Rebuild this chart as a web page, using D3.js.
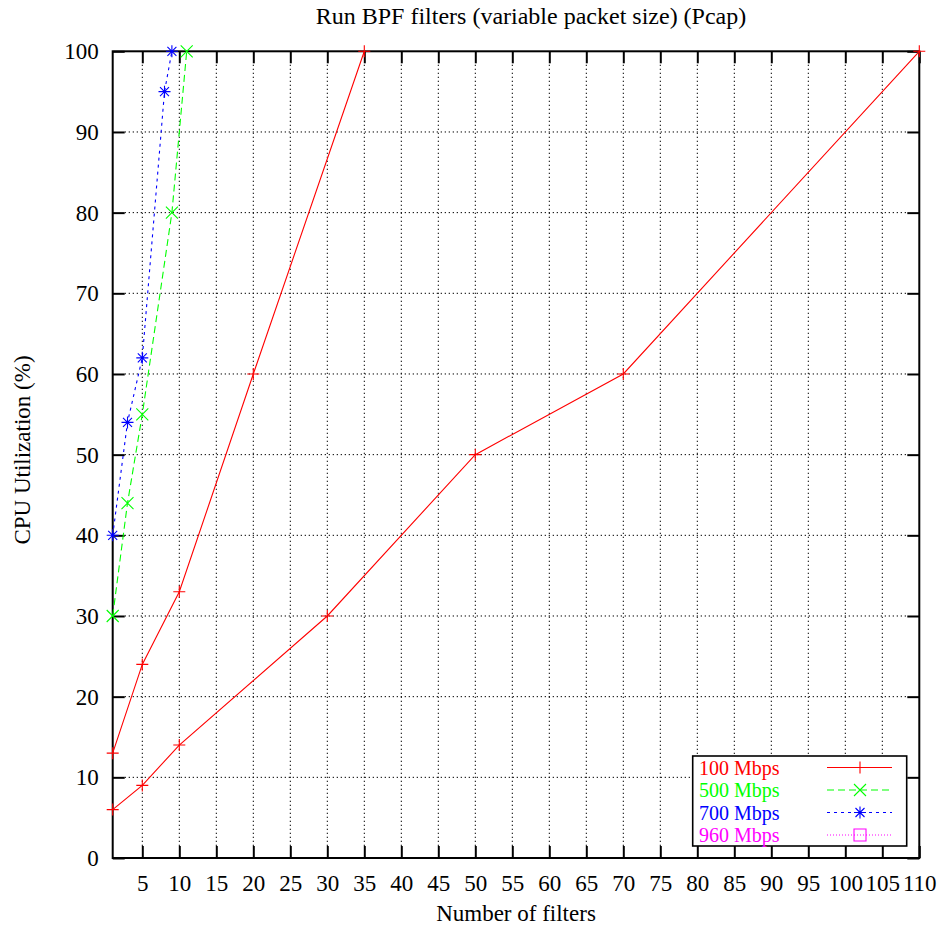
<!DOCTYPE html>
<html>
<head>
<meta charset="utf-8">
<script src="https://cdn.jsdelivr.net/npm/d3@7"></script>
<style>
  html, body { margin: 0; padding: 0; background: #fff; }
  svg { display: block; }
  text { font-family: "Liberation Serif", "DejaVu Serif", serif; }
</style>
</head>
<body>
<svg id="chart" width="942" height="927"></svg>
<script>
// ---- data ----
const titleText = "Run BPF filters (variable packet size) (Pcap)";
const xTitle = "Number of filters";
const yTitle = "CPU Utilization (%)";
const xTicks = [5,10,15,20,25,30,35,40,45,50,55,60,65,70,75,80,85,90,95,100,105,110];
const yTicks = [0,10,20,30,40,50,60,70,80,90,100];

// 100 Mbps (two runs in one data set, separated by a blank line)
const filters100a = [1, 5, 10, 20, 35];
const cpu100a     = [13, 24, 33, 60, 100];
const filters100b = [1, 5, 10, 30, 50, 70, 110];
const cpu100b     = [6, 9, 14, 30, 50, 60, 100];
// 500 Mbps
const filters500 = [1, 3, 5, 9, 11];
const cpu500     = [30, 44, 55, 80, 100];
// 700 Mbps
const filters700 = [1, 3, 5, 8, 9];
const cpu700     = [40, 54, 62, 95, 100];
// 960 Mbps (no points in range)
const filters960 = [];
const cpu960     = [];

const seriesNames  = ["100 Mbps", "500 Mbps", "700 Mbps", "960 Mbps"];
const seriesColors = ["#ff0000", "#00ff00", "#0000ff", "#ff00ff"];

// ---- layout ----
const L = 112.7, R = 919.3, T = 51.3, B = 858;
const svg = d3.select("#chart");
const x = d3.scaleLinear().domain([1, 110]).range([L, R]);
const y = d3.scaleLinear().domain([0, 100]).range([B, T]);

const zip = (xs, ys) => xs.map((v, i) => [v, ys[i]]);
const series = [
  { name: seriesNames[0], color: seriesColors[0], dash: null, marker: "plus",
    segments: [zip(filters100a, cpu100a), zip(filters100b, cpu100b)] },
  { name: seriesNames[1], color: seriesColors[1], dash: "7,4", marker: "cross",
    segments: [zip(filters500, cpu500)] },
  { name: seriesNames[2], color: seriesColors[2], dash: "3,4", marker: "star",
    segments: [zip(filters700, cpu700)] },
  { name: seriesNames[3], color: seriesColors[3], dash: "1,2", marker: "box",
    segments: [zip(filters960, cpu960)] }
];

const markerPath = {
  plus:  "M-6,0H6M0,-6V6",
  cross: "M-6,-6L6,6M-6,6L6,-6",
  star:  "M-6,0H6M0,-6V6M-4.5,-4.5L4.5,4.5M-4.5,4.5L4.5,-4.5",
  box:   "M-6,-6H6V6H-6Z"
};

// ---- grid ----
const grid = svg.append("g").attr("class", "grid")
  .attr("stroke", "#000").attr("stroke-width", 1).attr("stroke-dasharray", "1.3,2.7");
grid.selectAll("line.gx").data(xTicks.filter(v => v < 110)).join("line")
  .attr("x1", d => x(d)).attr("x2", d => x(d))
  .attr("y1", B - 12).attr("y2", T + 12);
grid.selectAll("line.gy").data(yTicks.filter(v => v > 0 && v < 100)).join("line")
  .attr("class", "gy")
  .attr("y1", d => y(d)).attr("y2", d => y(d))
  .attr("x1", L + 12).attr("x2", R - 12);

// ---- axes ----
function styleAxis(g, showLabels) {
  g.select(".domain").remove();
  g.selectAll(".tick line").attr("stroke", "#000").attr("stroke-width", 2);
  g.selectAll(".tick text").attr("fill", "#000").attr("font-size", 23)
    .attr("font-family", "'Liberation Serif', serif");
  if (!showLabels) g.selectAll(".tick text").remove();
}
svg.append("g").attr("transform", `translate(0,${B})`)
  .call(d3.axisBottom(x).tickValues(xTicks).tickSize(-12).tickPadding(17).tickFormat(d3.format("d")))
  .call(g => styleAxis(g, true));
svg.append("g").attr("transform", `translate(0,${T})`)
  .call(d3.axisTop(x).tickValues(xTicks).tickSize(-12))
  .call(g => styleAxis(g, false));
svg.append("g").attr("transform", `translate(${L},0)`)
  .call(d3.axisLeft(y).tickValues(yTicks).tickSize(-12).tickPadding(14).tickFormat(d3.format("d")))
  .call(g => styleAxis(g, true));
svg.append("g").attr("transform", `translate(${R},0)`)
  .call(d3.axisRight(y).tickValues(yTicks).tickSize(-12))
  .call(g => styleAxis(g, false));

// border
svg.append("rect").attr("x", L).attr("y", T).attr("width", R - L).attr("height", B - T)
  .attr("fill", "none").attr("stroke", "#000").attr("stroke-width", 2);

// ---- data lines ----
const line = d3.line().x(d => x(d[0])).y(d => y(d[1]));
series.forEach(s => {
  const g = svg.append("g");
  s.segments.forEach(seg => {
    if (!seg.length) return;
    g.append("path").attr("d", line(seg)).attr("fill", "none")
      .attr("stroke", s.color).attr("stroke-width", 1.1)
      .attr("stroke-dasharray", s.dash);
    g.selectAll(null).data(seg).join("path")
      .attr("transform", d => `translate(${x(d[0])},${y(d[1])})`)
      .attr("d", markerPath[s.marker]).attr("fill", "none")
      .attr("stroke", s.color).attr("stroke-width", 1.1);
  });
});

// ---- legend ----
const lg = svg.append("g");
lg.append("rect").attr("x", 692.7).attr("y", 756).attr("width", 214).attr("height", 90)
  .attr("fill", "#fff").attr("stroke", "#000").attr("stroke-width", 1.6);
series.forEach((s, i) => {
  const cy = 767.5 + i * 22.5;
  lg.append("text").attr("x", 699).attr("y", cy).attr("dy", "0.35em")
    .attr("font-size", 20).attr("fill", s.color).text(s.name);
  lg.append("line").attr("x1", 827).attr("x2", 892).attr("y1", cy).attr("y2", cy)
    .attr("stroke", s.color).attr("stroke-width", 1.1).attr("stroke-dasharray", s.dash);
  lg.append("path").attr("transform", `translate(860,${cy})`).attr("d", markerPath[s.marker])
    .attr("fill", "none").attr("stroke", s.color).attr("stroke-width", 1.1);
});

// ---- titles ----
svg.append("text").attr("x", 531).attr("y", 24).attr("text-anchor", "middle")
  .attr("font-size", 24).attr("fill", "#000").text(titleText);
svg.append("text").attr("x", 516).attr("y", 921).attr("text-anchor", "middle")
  .attr("font-size", 23).attr("fill", "#000").text(xTitle);
svg.append("text").attr("transform", "translate(22,450) rotate(-90)").attr("text-anchor", "middle")
  .attr("dy", "0.35em").attr("font-size", 23).attr("fill", "#000").text(yTitle);
</script>
</body>
</html>
